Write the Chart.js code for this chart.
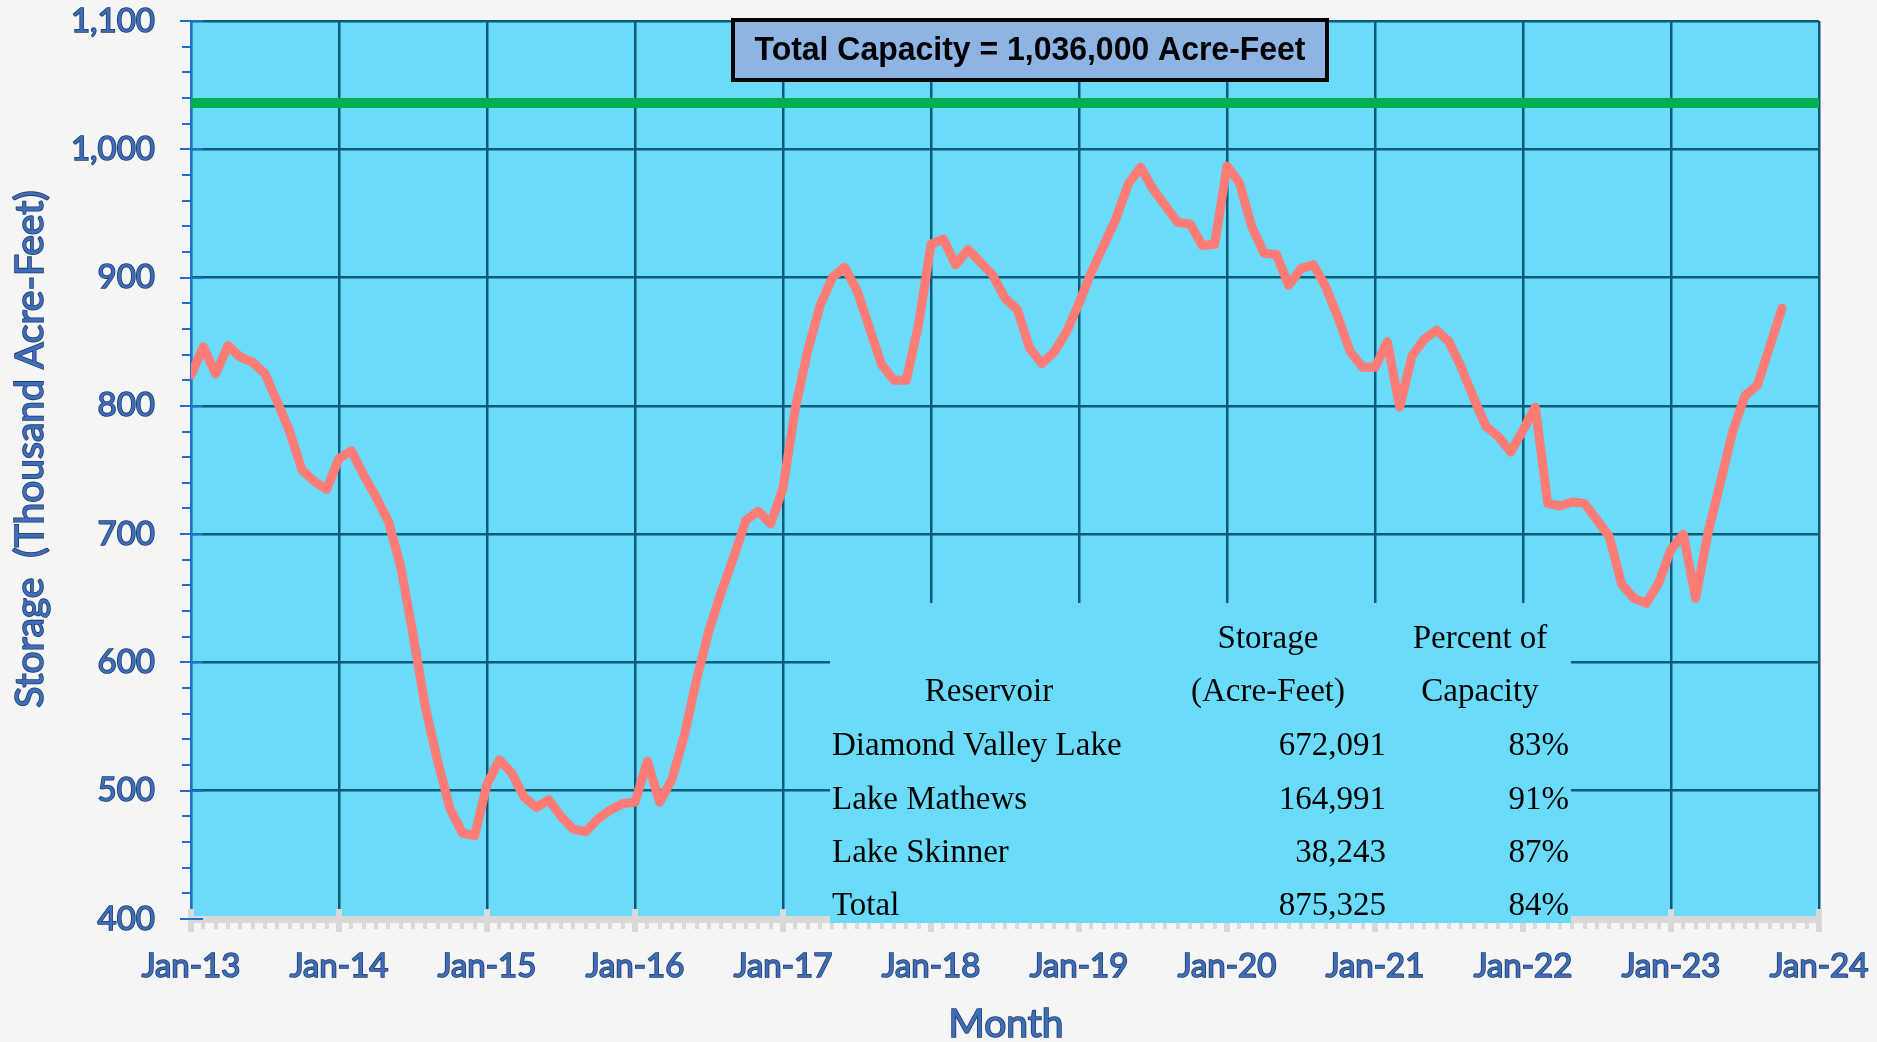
<!DOCTYPE html>
<html>
<head>
<meta charset="utf-8">
<title>Reservoir Storage</title>
<script src="https://cdn.jsdelivr.net/npm/chart.js@4.4.1/dist/chart.umd.min.js"></script>
<style>
  html, body { margin: 0; padding: 0; background: #f5f5f5; }
  canvas { display: block; }
</style>
</head>
<body>
<canvas id="grafico" width="1877" height="1042"></canvas>
<script>
// Almacenamiento mensual (miles de acre-pies), desde Jan-13
const storage = [
  824, 846, 825, 847, 838, 834, 825, 803, 780, 750, 741, 735,   // 2013
  759, 765, 746, 729, 710, 675, 622, 565, 523, 486, 467, 465,   // 2014
  505, 524, 514, 495, 487, 493, 480, 470, 468, 478, 485, 490,   // 2015
  491, 523, 491, 509, 543, 587, 625, 655, 682, 711, 718, 708,   // 2016
  736, 798, 843, 878, 900, 908, 890, 861, 832, 820, 820, 864,   // 2017
  926, 930, 910, 922, 912, 902, 884, 875, 845, 833, 842, 858,   // 2018
  880, 904, 925, 946, 973, 986, 969, 956, 943, 942, 925, 926,   // 2019
  987, 974, 940, 919, 918, 894, 907, 910, 893, 869, 842, 830,   // 2020
  830, 850, 799, 839, 852, 859, 850, 830, 806, 784, 776, 764,   // 2021
  781, 799, 724, 722, 725, 724, 711, 698, 661, 650, 646, 662,   // 2022
  688, 700, 650, 701, 740, 780, 808, 816, 846, 876              // 2023
];
const capacity = 1036;

const xTickMonths = [0, 12, 24, 36, 48, 60, 72, 84, 96, 108, 120, 132];
const xTickLabels = ['Jan-13', 'Jan-14', 'Jan-15', 'Jan-16', 'Jan-17', 'Jan-18',
                     'Jan-19', 'Jan-20', 'Jan-21', 'Jan-22', 'Jan-23', 'Jan-24'];
const yTicks = [400, 500, 600, 700, 800, 900, 1000, 1100];

const reservoirs = ['Diamond Valley Lake', 'Lake Mathews', 'Lake Skinner', 'Total'];
const storageAF = [672091, 164991, 38243, 875325];
const percentCap = [83, 91, 87, 84];

const plotColor = '#6adbf8';
const gridColor = '#0b5a78';
const labelBlue = '#3f6db8';
const labelEdge = '#1b3a6b';

const ctx = document.getElementById('grafico').getContext('2d');

const fondo = {
  id: 'fondo',
  beforeDraw(chart) {
    const { ctx, chartArea: a } = chart;
    ctx.save();
    ctx.fillStyle = '#f5f5f5';
    ctx.fillRect(0, 0, chart.width, chart.height);
    ctx.fillStyle = plotColor;
    ctx.fillRect(a.left, a.top, a.right - a.left, a.bottom - a.top);
    ctx.restore();
  }
};

const marcasYTabla = {
  id: 'marcasYTabla',
  beforeDatasetsDraw(chart) {
    const { ctx, chartArea: a } = chart;
    const x = chart.scales.x, y = chart.scales.y;
    ctx.save();

    // marcas del eje x (mensuales)
    ctx.fillStyle = '#d9d9d9';
    for (let m = 0; m <= 132; m++) {
      const px = Math.round(x.getPixelForValue(m));
      if (m % 12 === 0) ctx.fillRect(px - 3, a.bottom - 10, 6, 23);
      else ctx.fillRect(px - 2, a.bottom + 4, 4, 6);
    }

    // marcas del eje y
    ctx.strokeStyle = '#1e6fcf';
    ctx.lineWidth = 2;
    for (let v = 400; v <= 1100; v += 20) {
      const py = Math.round(y.getPixelForValue(v));
      ctx.beginPath();
      if (v % 100 === 0) { ctx.moveTo(a.left - 11, py); ctx.lineTo(a.left + 12, py); }
      else { ctx.moveTo(a.left - 9, py); ctx.lineTo(a.left, py); }
      ctx.stroke();
    }

    // tabla de embalses
    ctx.fillStyle = plotColor;
    ctx.fillRect(830, 603, 741, 320);
    ctx.fillStyle = '#000';
    ctx.font = '33px "Liberation Serif", "Times New Roman", serif';
    ctx.textBaseline = 'middle';
    ctx.textAlign = 'center';
    ctx.fillText('Storage', 1268, 639);
    ctx.fillText('Percent of', 1480, 639);
    ctx.fillText('Reservoir', 989, 692);
    ctx.fillText('(Acre-Feet)', 1268, 692);
    ctx.fillText('Capacity', 1480, 692);
    const rowY = [746, 800, 853, 906];
    reservoirs.forEach((r, i) => {
      ctx.textAlign = 'left';
      ctx.fillText(r, 832, rowY[i]);
      ctx.textAlign = 'right';
      ctx.fillText(storageAF[i].toLocaleString('en-US'), 1386, rowY[i]);
      ctx.fillText(percentCap[i] + '%', 1569, rowY[i]);
    });
    ctx.restore();
  },
  afterDraw(chart) {
    const { ctx } = chart;
    ctx.save();
    // cuadro de capacidad total
    ctx.fillStyle = '#8eb4e3';
    ctx.fillRect(733, 20, 594, 60);
    ctx.strokeStyle = '#000';
    ctx.lineWidth = 4;
    ctx.strokeRect(733, 20, 594, 60);
    const txt = 'Total Capacity = ' + (capacity * 1000).toLocaleString('en-US') + ' Acre-Feet';
    ctx.font = 'bold 33px "Liberation Sans Narrow", "Liberation Sans", Arial, sans-serif';
    ctx.textBaseline = 'middle';
    ctx.textAlign = 'center';
    const w = ctx.measureText(txt).width;
    ctx.translate(1030, 51);
    ctx.scale(551 / w, 1);
    ctx.fillStyle = '#000';
    ctx.fillText(txt, 0, 0);
    ctx.restore();

    // titulos de ejes
    ctx.save();
    ctx.font = '39px Lato, "Open Sans", sans-serif';
    ctx.textAlign = 'center';
    ctx.textBaseline = 'middle';
    ctx.lineWidth = 1.6;
    ctx.strokeStyle = labelEdge;
    ctx.fillStyle = labelBlue;
    ctx.strokeText('Month', 1006, 1024);
    ctx.fillText('Month', 1006, 1024);
    ctx.translate(30, 449);
    ctx.rotate(-Math.PI / 2);
    ctx.strokeText('Storage  (Thousand Acre-Feet)', 0, 0);
    ctx.fillText('Storage  (Thousand Acre-Feet)', 0, 0);
    ctx.restore();
  }
};

const tickFont = { family: 'Lato, "Open Sans", sans-serif', size: 33 };

new Chart(ctx, {
  type: 'line',
  data: {
    datasets: [
      {
        label: 'Capacity',
        data: [{ x: 0, y: capacity }, { x: 132, y: capacity }],
        borderColor: '#00b050',
        borderWidth: 10,
        pointRadius: 0
      },
      {
        label: 'Storage',
        data: storage.map((v, i) => ({ x: i, y: v })),
        borderColor: '#ff7b76',
        borderWidth: 9,
        borderJoinStyle: 'round',
        borderCapStyle: 'round',
        pointRadius: 0,
        tension: 0
      }
    ]
  },
  options: {
    responsive: false,
    animation: false,
    devicePixelRatio: 1,
    layout: { padding: { left: 0, top: 21, right: 58, bottom: 0 } },
    plugins: {
      legend: { display: false },
      tooltip: { enabled: false }
    },
    scales: {
      x: {
        type: 'linear',
        min: 0,
        max: 132,
        afterFit: s => { s.height = 123; s.paddingLeft = 0; s.paddingRight = 0; },
        afterBuildTicks: s => { s.ticks = xTickMonths.map(v => ({ value: v })); },
        ticks: {
          autoSkip: false,
          maxRotation: 0,
          padding: 28,
          font: tickFont,
          color: labelBlue,
          textStrokeColor: labelEdge,
          textStrokeWidth: 1.6,
          callback: (v, i) => xTickLabels[i]
        },
        grid: { color: gridColor, lineWidth: 2.5, drawTicks: false },
        border: { color: '#d9d9d9', width: 7 }
      },
      y: {
        min: 400,
        max: 1100,
        afterFit: s => { s.width = 191; s.paddingTop = 0; s.paddingBottom = 0; },
        afterBuildTicks: s => { s.ticks = yTicks.map(v => ({ value: v })); },
        ticks: {
          padding: 36,
          font: tickFont,
          color: labelBlue,
          textStrokeColor: labelEdge,
          textStrokeWidth: 1.6,
          callback: v => v.toLocaleString('en-US')
        },
        grid: { color: gridColor, lineWidth: 2.5, drawTicks: false },
        border: { color: '#1e6fcf', width: 2 }
      }
    }
  },
  plugins: [fondo, marcasYTabla]
});
</script>
</body>
</html>
